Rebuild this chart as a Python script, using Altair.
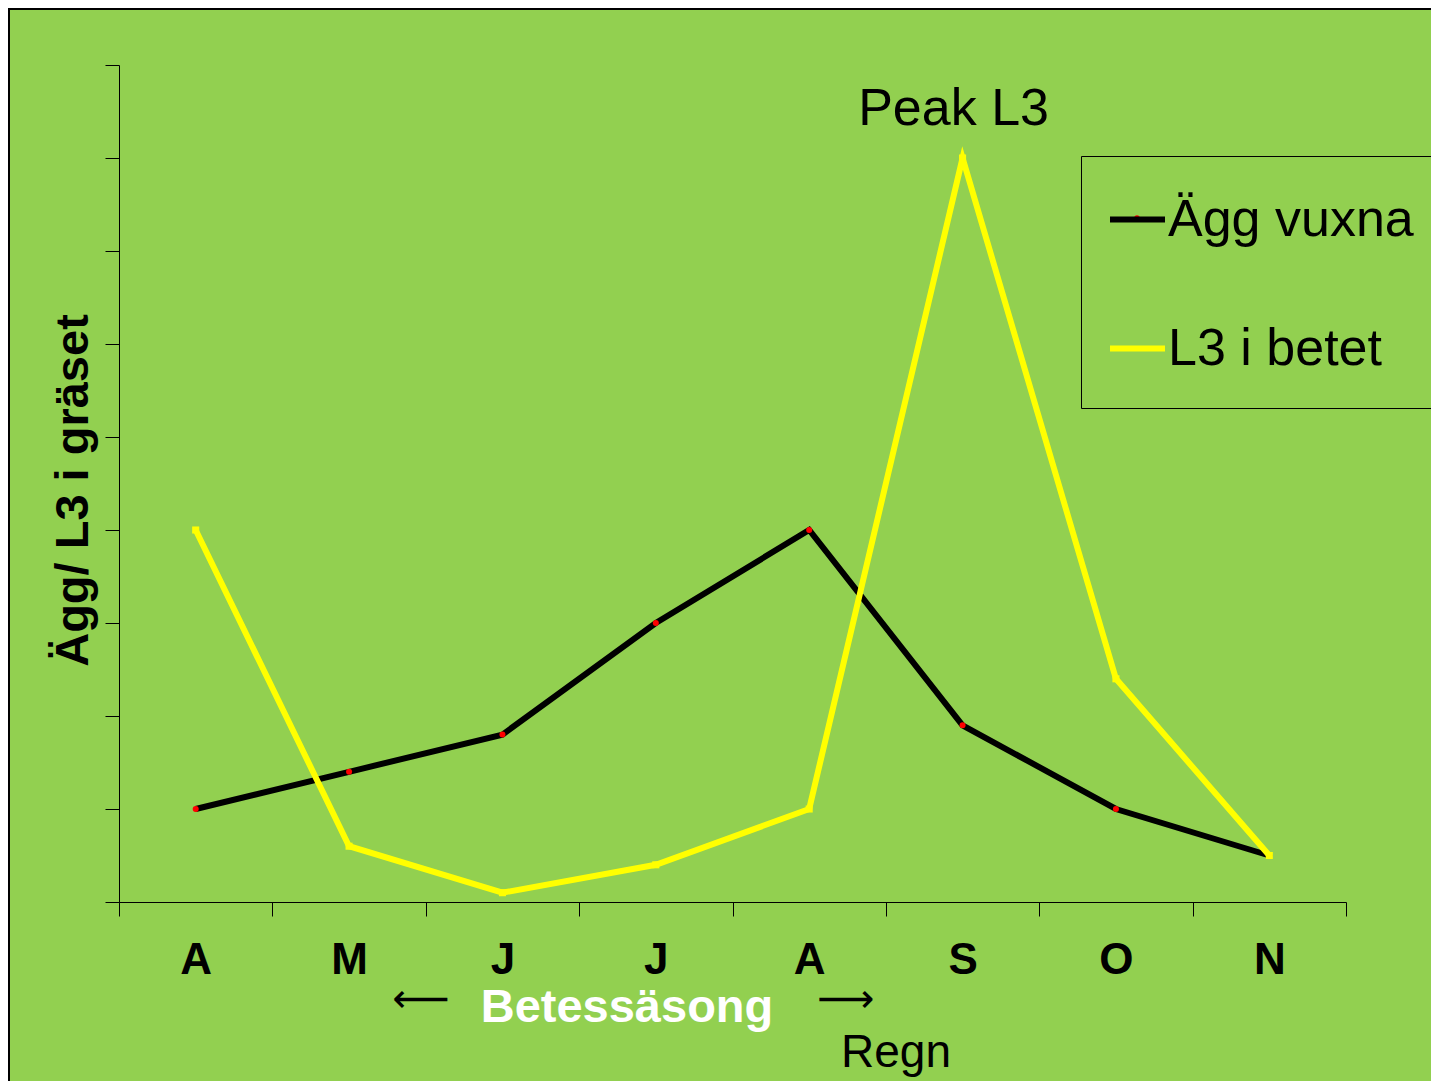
import altair as alt
import pandas as pd

# ---- data ----
months = ["Apr", "May", "Jun", "Jul", "Aug", "Sep", "Oct", "Nov"]
month_labels = ["A", "M", "J", "J", "A", "S", "O", "N"]
series_names = ["Ägg vuxna", "L3 i betet"]
agg_vuxna = [1.0, 1.4, 1.8, 3.0, 4.0, 1.9, 1.0, 0.5]
l3_betet = [4.0, 0.6, 0.1, 0.4, 1.0, 8.0, 2.4, 0.5]
y_ticks = list(range(10))

GREEN = "#92D050"
YELLOW = "#FFFF00"
FONT = "Liberation Sans"

W, H = 1227, 837
PAD = {"left": 111, "top": 57, "right": 85, "bottom": 179}

df_black = pd.DataFrame({"month": months, "value": agg_vuxna, "series": series_names[0]})
df_yellow = pd.DataFrame({"month": months, "value": l3_betet, "series": series_names[1]})

label_expr = (
    "[" + ",".join(f"'{l}'" for l in month_labels) + "][indexof(["
    + ",".join(f"'{m}'" for m in months) + "], datum.value)]"
)

x_enc = alt.X(
    "month:N",
    sort=months,
    scale=alt.Scale(type="band", domain=months, paddingInner=0, paddingOuter=0),
    axis=alt.Axis(
        title=None, labelExpr=label_expr, labelAngle=0, tickBand="extent",
        tickSize=14, labelPadding=22, labelFontSize=44, labelFont=FONT,
        labelFontWeight="bold", labelColor="black", domainColor="black",
        tickColor="black", grid=False,
    ),
)
y_enc = alt.Y(
    "value:Q",
    scale=alt.Scale(domain=[0, 9], nice=False),
    axis=alt.Axis(
        values=y_ticks, labels=False, tickSize=14, grid=False,
        domainColor="black", tickColor="black",
        title="Ägg/ L3 i gräset", titleFontSize=47, titleFont=FONT,
        titleFontWeight="bold", titleColor="black", titleX=-32, titleY=425,
        titleAlign="center", titleBaseline="alphabetic",
    ),
)
color_enc = alt.Color(
    "series:N",
    scale=alt.Scale(domain=series_names, range=["black", YELLOW]),
    legend=alt.Legend(
        title=None, orient="none", legendX=962, legendY=91,
        symbolType="stroke", symbolSize=3025, symbolStrokeWidth=6,
        symbolOffset=-7,
        labelFontSize=52, labelFont=FONT, labelColor="black", labelOffset=0,
        strokeColor="black", padding=33, rowPadding=72, labelLimit=0,
    ),
)

black_line = alt.Chart(df_black).mark_line(strokeWidth=6).encode(x=x_enc, y=y_enc, color=color_enc)
black_pts = alt.Chart(df_black).mark_point(filled=True, color="red", size=36, opacity=1).encode(x=x_enc, y=y_enc)
yellow_line = alt.Chart(df_yellow).mark_line(strokeWidth=6).encode(x=x_enc, y=y_enc, color=color_enc)
yellow_pts = alt.Chart(df_yellow).mark_point(filled=True, shape="square", color=YELLOW, size=50, opacity=1).encode(x=x_enc, y=y_enc)

legend_dot = alt.Chart(pd.DataFrame({"a": [0]})).mark_point(filled=True, color="red", size=30, opacity=1).encode(
    x=alt.value(1018), y=alt.value(153)
)

peak = alt.Chart(pd.DataFrame({"month": ["Sep"], "value": [8.0], "t": ["Peak L3"]})).mark_text(
    fontSize=52, font=FONT, color="black", align="center", baseline="alphabetic", dx=-9, dy=-33
).encode(x=x_enc, y=y_enc, text="t:N")

betes = alt.Chart(pd.DataFrame({"t": ["Betessäsong"]})).mark_text(
    fontSize=47, font=FONT, fontWeight="bold", color="white", align="center", baseline="alphabetic"
).encode(x=alt.value(508), y=alt.value(957), text="t:N")

arrows = alt.Chart(pd.DataFrame({"t": ["⟵", "⟶"], "px": [302, 727]})).mark_text(
    fontSize=40, font="DejaVu Sans", color="black", align="center", baseline="middle"
).encode(x=alt.X("px:Q", scale=None), y=alt.value(935), text="t:N")

regn = alt.Chart(pd.DataFrame({"t": ["Regn"]})).mark_text(
    fontSize=46, font=FONT, color="black", align="center", baseline="alphabetic"
).encode(x=alt.value(777), y=alt.value(1002), text="t:N")

frame_left = alt.Chart(pd.DataFrame({"a": [0]})).mark_rule(color="black", strokeWidth=2).encode(
    x=alt.value(-110), y=alt.value(-57), y2=alt.value(H + PAD["bottom"])
)
frame_top = alt.Chart(pd.DataFrame({"a": [0]})).mark_rule(color="black", strokeWidth=2).encode(
    y=alt.value(-56), x=alt.value(-111), x2=alt.value(W + PAD["right"])
)

chart = alt.layer(
    frame_left, frame_top, black_line, black_pts, yellow_line, yellow_pts, legend_dot,
    peak, betes, arrows, regn
).properties(
    width=W, height=H, background=GREEN, padding=PAD,
    autosize=alt.AutoSizeParams(type="none"),
).configure_view(stroke=None)

chart.save("out.html", embed_options={"renderer": "svg", "actions": False})
